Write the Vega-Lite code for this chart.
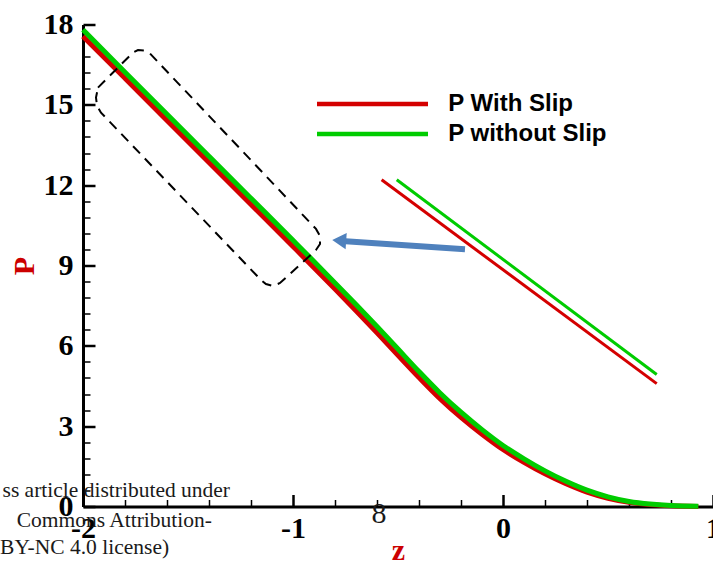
{
  "$schema": "https://vega.github.io/schema/vega-lite/v6.json",
  "width": 630,
  "height": 482,
  "autosize": {"type": "none"},
  "padding": {"left": 83, "top": 24.5, "right": 0, "bottom": 54.5},
  "background": "white",
  "config": {
    "view": {"stroke": null},
    "axis": {"grid": false, "domainColor": "#000", "tickColor": "#000", "labelColor": "#000"}
  },
  "datasets": {
    "curves": [
      {"s": "With Slip", "z": -2.0, "P": 17.56},
      {"s": "With Slip", "z": -1.8, "P": 15.99},
      {"s": "With Slip", "z": -1.6, "P": 14.42},
      {"s": "With Slip", "z": -1.4, "P": 12.85},
      {"s": "With Slip", "z": -1.2, "P": 11.28},
      {"s": "With Slip", "z": -1.0, "P": 9.71},
      {"s": "With Slip", "z": -0.9, "P": 8.92},
      {"s": "With Slip", "z": -0.8, "P": 8.12},
      {"s": "With Slip", "z": -0.7, "P": 7.31},
      {"s": "With Slip", "z": -0.6, "P": 6.49},
      {"s": "With Slip", "z": -0.5, "P": 5.65},
      {"s": "With Slip", "z": -0.4, "P": 4.82},
      {"s": "With Slip", "z": -0.3, "P": 4.03},
      {"s": "With Slip", "z": -0.2, "P": 3.33},
      {"s": "With Slip", "z": -0.1, "P": 2.7},
      {"s": "With Slip", "z": 0.0, "P": 2.13},
      {"s": "With Slip", "z": 0.1, "P": 1.65},
      {"s": "With Slip", "z": 0.2, "P": 1.22},
      {"s": "With Slip", "z": 0.3, "P": 0.85},
      {"s": "With Slip", "z": 0.4, "P": 0.54},
      {"s": "With Slip", "z": 0.5, "P": 0.31},
      {"s": "With Slip", "z": 0.6, "P": 0.16},
      {"s": "With Slip", "z": 0.7, "P": 0.07},
      {"s": "With Slip", "z": 0.8, "P": 0.025},
      {"s": "With Slip", "z": 0.93, "P": 0.0},
      {"s": "without Slip", "z": -2.0, "P": 17.8},
      {"s": "without Slip", "z": -1.8, "P": 16.22},
      {"s": "without Slip", "z": -1.6, "P": 14.65},
      {"s": "without Slip", "z": -1.4, "P": 13.08},
      {"s": "without Slip", "z": -1.2, "P": 11.51},
      {"s": "without Slip", "z": -1.0, "P": 9.94},
      {"s": "without Slip", "z": -0.9, "P": 9.15},
      {"s": "without Slip", "z": -0.8, "P": 8.35},
      {"s": "without Slip", "z": -0.7, "P": 7.54},
      {"s": "without Slip", "z": -0.6, "P": 6.72},
      {"s": "without Slip", "z": -0.5, "P": 5.88},
      {"s": "without Slip", "z": -0.4, "P": 5.04},
      {"s": "without Slip", "z": -0.3, "P": 4.24},
      {"s": "without Slip", "z": -0.2, "P": 3.52},
      {"s": "without Slip", "z": -0.1, "P": 2.87},
      {"s": "without Slip", "z": 0.0, "P": 2.28},
      {"s": "without Slip", "z": 0.1, "P": 1.78},
      {"s": "without Slip", "z": 0.2, "P": 1.33},
      {"s": "without Slip", "z": 0.3, "P": 0.94},
      {"s": "without Slip", "z": 0.4, "P": 0.61},
      {"s": "without Slip", "z": 0.5, "P": 0.36},
      {"s": "without Slip", "z": 0.6, "P": 0.19},
      {"s": "without Slip", "z": 0.7, "P": 0.09},
      {"s": "without Slip", "z": 0.8, "P": 0.035},
      {"s": "without Slip", "z": 0.93, "P": 0.01}
    ],
    "inset": [
      {"s": "With Slip", "z": -0.578, "P": 12.2},
      {"s": "With Slip", "z": 0.732, "P": 4.59},
      {"s": "without Slip", "z": -0.506, "P": 12.2},
      {"s": "without Slip", "z": 0.732, "P": 4.93}
    ],
    "box": [
      {"o": 0, "z": -1.9286, "P": 15.644},
      {"o": 1, "z": -1.7619, "P": 16.954},
      {"o": 2, "z": -1.7381, "P": 17.047},
      {"o": 3, "z": -1.7095, "P": 17.028},
      {"o": 4, "z": -1.681, "P": 16.916},
      {"o": 5, "z": -0.8905, "P": 10.367},
      {"o": 6, "z": -0.8714, "P": 10.105},
      {"o": 7, "z": -0.8714, "P": 9.805},
      {"o": 8, "z": -0.8905, "P": 9.581},
      {"o": 9, "z": -1.0619, "P": 8.346},
      {"o": 10, "z": -1.0952, "P": 8.234},
      {"o": 11, "z": -1.1286, "P": 8.308},
      {"o": 12, "z": -1.1524, "P": 8.458},
      {"o": 13, "z": -1.9143, "P": 14.708},
      {"o": 14, "z": -1.9333, "P": 14.97},
      {"o": 15, "z": -1.9381, "P": 15.269},
      {"o": 16, "z": -1.9286, "P": 15.644}
    ],
    "legend": [
      {"s": "With Slip", "label": "P With Slip", "z1": -0.8857, "z2": -0.3571, "zt": -0.2605, "P": 15.03},
      {"s": "without Slip", "label": "P without Slip", "z1": -0.8857, "z2": -0.3571, "zt": -0.2605, "P": 13.91}
    ],
    "notes": [
      {"t": "ss article distributed under", "z": -1.3, "P": 0.35},
      {"t": "Commons Attribution-", "z": -1.386, "P": -0.75},
      {"t": "BY-NC 4.0 license)", "z": -1.59, "P": -1.76}
    ]
  },
  "layer": [
    {
      "data": {"name": "inset"},
      "mark": {"type": "line", "strokeWidth": 3},
      "encoding": {
        "x": {"field": "z", "type": "quantitative", "scale": {"domain": [-2, 1]},
          "axis": {"orient": "bottom", "values": [-1.8, -1.6, -1.4, -1.2, -0.8, -0.6, -0.4, -0.2, 0.2, 0.4, 0.6, 0.8], "labels": false, "domain": false, "title": null, "tickSize": -7, "tickWidth": 1.5}},
        "y": {"field": "P", "type": "quantitative", "scale": {"domain": [0, 18]},
          "axis": {"orient": "left", "values": [0.6, 1.2, 1.8, 2.4, 3.6, 4.2, 4.8, 5.4, 6.6, 7.2, 7.8, 8.4, 9.6, 10.2, 10.8, 11.4, 12.6, 13.2, 13.8, 14.4, 15.6, 16.2, 16.8, 17.4], "labels": false, "domain": false, "title": null, "tickSize": -7, "tickWidth": 1.5}},
        "color": {"field": "s", "type": "nominal", "scale": {"domain": ["With Slip", "without Slip"], "range": ["#d40000", "#00cc00"]}, "legend": null}
      }
    },
    {
      "data": {"name": "curves"},
      "mark": {"type": "line", "strokeWidth": 5, "interpolate": "monotone"},
      "encoding": {
        "x": {"field": "z", "type": "quantitative", "scale": {"domain": [-2, 1]},
          "axis": {"orient": "bottom", "values": [-2, -1, 0, 1], "labelExpr": "datum.value < 0 ? '-' + abs(datum.value) : '' + datum.value",
            "labelFont": "Liberation Serif", "labelFontSize": 30, "labelFontWeight": "bold", "labelPadding": 19, "labelFlush": false, "labelOverlap": false,
            "tickSize": -12, "tickWidth": 2.5, "domainWidth": 3,
            "title": "z", "titleFont": "Liberation Serif", "titleFontSize": 30, "titleFontWeight": "bold", "titleColor": "#cc0000",
            "titleX": 315, "titleY": 53, "titleBaseline": "alphabetic", "titleAlign": "center"}},
        "y": {"field": "P", "type": "quantitative", "scale": {"domain": [0, 18]},
          "axis": {"orient": "left", "values": [0, 3, 6, 9, 12, 15, 18],
            "labelFont": "Liberation Serif", "labelFontSize": 30, "labelFontWeight": "bold", "labelPadding": 22, "labelFlush": false, "labelOverlap": false,
            "tickSize": -12, "tickWidth": 2.5, "domainWidth": 3,
            "title": "P", "titleFont": "Liberation Serif", "titleFontSize": 30, "titleFontWeight": "bold", "titleColor": "#cc0000",
            "titleX": -50, "titleY": 241, "titleAngle": 270, "titleBaseline": "alphabetic", "titleAlign": "center"}},
        "color": {"field": "s", "type": "nominal", "scale": {"domain": ["With Slip", "without Slip"], "range": ["#d40000", "#00cc00"]}, "legend": null}
      }
    },
    {
      "data": {"name": "box"},
      "mark": {"type": "line", "color": "#000", "strokeWidth": 2, "strokeDash": [10, 7]},
      "encoding": {
        "x": {"field": "z", "type": "quantitative", "scale": {"domain": [-2, 1]}, "axis": null},
        "y": {"field": "P", "type": "quantitative", "scale": {"domain": [0, 18]}, "axis": null},
        "order": {"field": "o", "type": "quantitative"}
      }
    },
    {
      "data": {"values": [{"z1": -0.75, "P1": 9.91, "z2": -0.181, "P2": 9.607}]},
      "mark": {"type": "rule", "color": "#4f81bd", "strokeWidth": 6},
      "encoding": {
        "x": {"field": "z1", "type": "quantitative", "scale": {"domain": [-2, 1]}, "axis": null},
        "y": {"field": "P1", "type": "quantitative", "scale": {"domain": [0, 18]}, "axis": null},
        "x2": {"field": "z2"},
        "y2": {"field": "P2"}
      }
    },
    {
      "data": {"values": [{"z": -0.78, "P": 9.93}]},
      "mark": {"type": "point", "shape": "triangle-left", "filled": true, "color": "#4f81bd", "opacity": 1, "size": 260, "angle": 4},
      "encoding": {
        "x": {"field": "z", "type": "quantitative", "scale": {"domain": [-2, 1]}, "axis": null},
        "y": {"field": "P", "type": "quantitative", "scale": {"domain": [0, 18]}, "axis": null}
      }
    },
    {
      "data": {"name": "legend"},
      "mark": {"type": "rule", "strokeWidth": 4.5},
      "encoding": {
        "x": {"field": "z1", "type": "quantitative", "scale": {"domain": [-2, 1]}, "axis": null},
        "x2": {"field": "z2"},
        "y": {"field": "P", "type": "quantitative", "scale": {"domain": [0, 18]}, "axis": null},
        "color": {"field": "s", "type": "nominal", "scale": {"domain": ["With Slip", "without Slip"], "range": ["#d40000", "#00cc00"]}, "legend": null}
      }
    },
    {
      "data": {"name": "legend"},
      "mark": {"type": "text", "align": "left", "baseline": "middle", "font": "Liberation Sans", "fontSize": 24, "fontWeight": "bold", "color": "#000"},
      "encoding": {
        "x": {"field": "zt", "type": "quantitative", "scale": {"domain": [-2, 1]}, "axis": null},
        "y": {"field": "P", "type": "quantitative", "scale": {"domain": [0, 18]}, "axis": null},
        "text": {"field": "label"}
      }
    },
    {
      "data": {"name": "notes"},
      "mark": {"type": "text", "align": "right", "baseline": "alphabetic", "font": "Liberation Serif", "fontSize": 21.5, "color": "#1a1a1a"},
      "encoding": {
        "x": {"field": "z", "type": "quantitative", "scale": {"domain": [-2, 1]}, "axis": null},
        "y": {"field": "P", "type": "quantitative", "scale": {"domain": [0, 18]}, "axis": null},
        "text": {"field": "t"}
      }
    },
    {
      "data": {"values": [{"t": "8", "z": -0.59, "P": -0.6}]},
      "mark": {"type": "text", "align": "center", "baseline": "alphabetic", "font": "Liberation Serif", "fontSize": 30, "color": "#1a1a1a"},
      "encoding": {
        "x": {"field": "z", "type": "quantitative", "scale": {"domain": [-2, 1]}, "axis": null},
        "y": {"field": "P", "type": "quantitative", "scale": {"domain": [0, 18]}, "axis": null},
        "text": {"field": "t"}
      }
    }
  ],
  "resolve": {"axis": {"x": "independent", "y": "independent"}}
}
